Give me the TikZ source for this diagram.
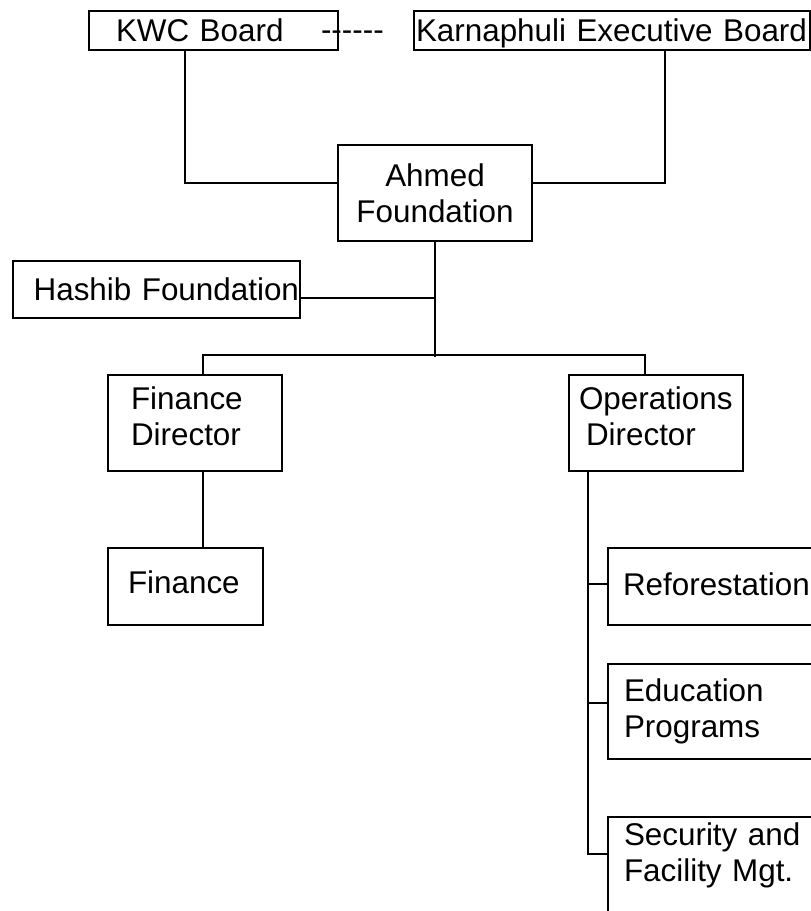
\documentclass[tikz,border=0pt]{standalone}
\usepackage{fontspec}
\setmainfont{Liberation Sans}

\begin{document}
\begin{tikzpicture}[
  x=1pt, y=-1pt,
  line width=2pt,
  font=\fontsize{31.4}{36}\selectfont,
  bag/.style={draw, rectangle, anchor=north west, inner ysep=0pt, align=left},
  gap/.style={anchor=base west, inner sep=0pt}
  ]
\fill[white] (0,0) rectangle (811,911);
\useasboundingbox (0,0) rectangle (811,911);
\clip (0,0) rectangle (811,911);

\node[bag, minimum height=39pt, inner xsep=27pt, text width=195pt] (kwc) at (88,10) {KWC Board};
\node[gap] (dash) at (320,40.5) {-{}-{}-{}-{}-{}-};
\node[bag, minimum height=39pt, inner xsep=2pt, text width=392pt, text depth=0pt] (kar) at (413,10) {Karnaphuli Executive Board};
\node[bag, minimum height=96pt, inner xsep=10pt, text width=174pt, align=center] (ahmed) at (337,144) {Ahmed\\Foundation};
\node[bag, minimum height=57pt, inner xsep=1pt, text width=285pt, align=right] (hashib) at (12,260) {Hashib Foundation};
\node[bag, minimum height=96pt, inner xsep=23pt, text width=128pt, text depth=50pt] (fd) at (107,374) {Finance\\Director};
\node[bag, minimum height=96pt, inner xsep=10pt, text width=154pt, text depth=50pt] (od) at (568,374) {Operations\\\hspace*{7pt}Director};
\node[bag, minimum height=77pt, inner xsep=20pt, text width=115pt, text depth=9pt] (fin) at (107,547) {Finance};
\node[bag, minimum height=77pt, inner xsep=15pt, text width=200pt, text depth=5pt] (ref) at (607,547) {Reforestation};
\node[bag, minimum height=95pt, inner xsep=16pt, text width=200pt] (edu) at (607,663) {Education\\Programs};
\node[bag, inner xsep=16pt, inner ysep=6pt, text width=200pt, text depth=80pt] (sec) at (607,816) {Security and\\Facility Mgt.};

\draw ([xshift=97pt]kwc.south west) |- ([yshift=10pt]ahmed.west);
\draw ([xshift=252pt]kar.south west) |- ([yshift=10pt]ahmed.east);
\draw (ahmed.south) -- ++(0,115) coordinate (bar);
\draw ([yshift=-8pt]hashib.east) coordinate (h) -- (h -| bar);
\draw ([xshift=96pt]fd.north west) -- ++(0,-19) -| ([xshift=77pt]od.north west);
\draw ([xshift=96pt]fd.south west) -- ([xshift=96pt]fin.north west);
\draw ([xshift=20pt]od.south west) coordinate (trunk) |- ([yshift=-38pt]sec.north west);
\draw ([yshift=2.5pt]ref.west) coordinate (r) -- (r -| trunk);
\draw ([yshift=8.5pt]edu.west) coordinate (e) -- (e -| trunk);
\end{tikzpicture}
\end{document}
